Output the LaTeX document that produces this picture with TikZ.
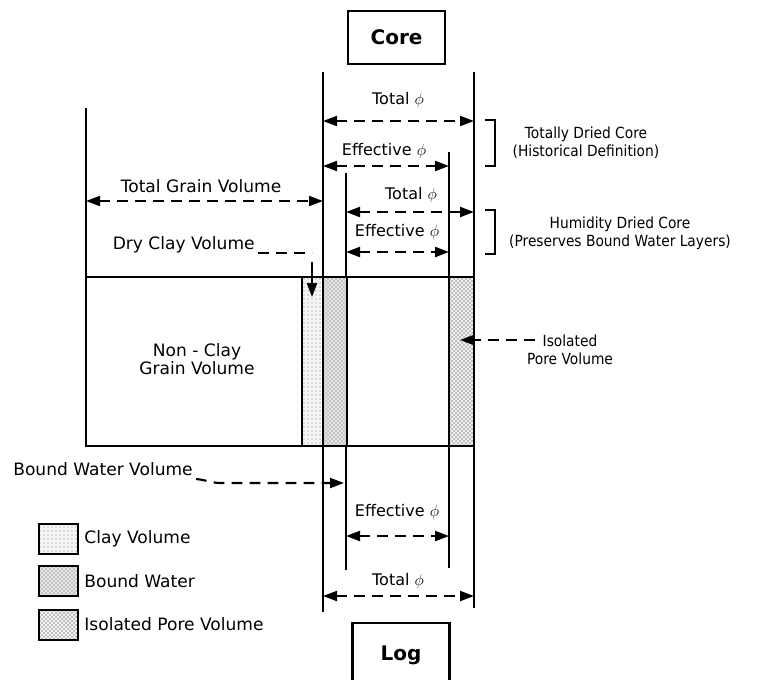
\documentclass[tikz,border=0pt]{standalone}
\usepackage{fontspec}
\setmainfont{DejaVu Sans}
\newfontfamily\narrowsans[FakeStretch=0.9]{DejaVu Sans}
\usetikzlibrary{positioning,arrows.meta,patterns,calc}

\begin{document}
\begin{tikzpicture}[x=0.75pt, y=-0.75pt, line width=1.6pt,
    txt/.style={font=\fontsize{12.8}{13.5}\selectfont, inner sep=1pt},
    dimtxt/.style={font=\fontsize{12}{13.5}\selectfont, inner sep=1pt},
    sidetxt/.style={font=\narrowsans\fontsize{11.5}{13.5}\selectfont, inner sep=1pt},
    titlebox/.style={draw, minimum width=72.75pt, minimum height=39.75pt, font=\fontsize{15}{18}\selectfont\bfseries},
    dimarrow/.style={dash pattern=on 8pt off 5.5pt, {Triangle[length=10.5pt,width=7.5pt]}-{Triangle[length=10.5pt,width=7.5pt]}},
    leader/.style={dash pattern=on 8pt off 5.5pt, -{Triangle[length=10.5pt,width=7.5pt]}},
    claypat/.style={draw, preaction={fill=gray!8}, pattern=dots, pattern color=gray!90},
    waterpat/.style={draw, preaction={fill=gray!20}, pattern=crosshatch dots, pattern color=gray!70!black},
    porepat/.style={draw, preaction={fill=gray!55}, pattern=crosshatch, pattern color=white}]

    \useasboundingbox (0,0) rectangle (780,679);

    % title boxes
    \node[titlebox] (core) at (396.5,37.5) {Core};
    \node[titlebox, minimum height=48pt] (log) at (401,655) {Log};

    % rock column
    \draw (86,277) rectangle (474,446);
    \draw[claypat] (302,277) rectangle (323,446);
    \draw[waterpat] (323,277) rectangle (347,446);
    \draw[porepat] (449,277) rectangle (474,446);
    \node[txt, align=center] (grain) at (197,359) {Non - Clay\\Grain Volume};

    % levels and line ends
    \coordinate (rt) at (0,277);
    \coordinate (rb) at (0,446);
    \coordinate (gl top) at (86,108);
    \coordinate (tl top) at (323,72);
    \coordinate (tl bot) at (323,612);
    \coordinate (tr top) at (474,72);
    \coordinate (tr bot) at (474,608);
    \coordinate (er top) at (449,152);
    \coordinate (er bot) at (449,568);
    \coordinate (el top) at (346,173);
    \coordinate (el bot) at (346,570);

    \draw (gl top) -- (gl top |- rt);
    \foreach \v in {tl,tr,er,el} {
        \draw (\v\space top) -- (\v\space top |- rt);
        \draw (\v\space bot |- rb) -- (\v\space bot);
    }

    % core porosities
    \coordinate (lv1) at (0,121);
    \coordinate (lv2) at (0,166);
    \coordinate (lv3) at (0,212);
    \coordinate (lv4) at (0,252);
    \coordinate (lv5) at (0,201);
    \coordinate (lv6) at (0,536);
    \coordinate (lv7) at (0,596);

    \draw[dimarrow] (tl top |- lv1) -- (tr top |- lv1);
    \node[dimtxt] (tot1) at (398,100) {Total $\phi$};
    \draw[dimarrow] (tl top |- lv2) -- (er top |- lv2);
    \node[dimtxt] (eff1) at (384,151) {Effective $\phi$};
    \draw[dimarrow] (el top |- lv3) -- (tr top |- lv3);
    \node[dimtxt] (tot2) at (411,195) {Total $\phi$};
    \draw[dimarrow] (el top |- lv4) -- (er top |- lv4);
    \node[dimtxt] (eff2) at (397,232) {Effective $\phi$};
    \draw[dimarrow] (gl top |- lv5) -- (tl top |- lv5);
    \node[txt] (tgv) at (201,186) {Total Grain Volume};

    % log porosities
    \draw[dimarrow] (el bot |- lv6) -- (er bot |- lv6);
    \node[dimtxt] (eff3) at (397,512) {Effective $\phi$};
    \draw[dimarrow] (tl bot |- lv7) -- (tr bot |- lv7);
    \node[dimtxt] (tot3) at (398,581) {Total $\phi$};

    % brackets
    \draw (485,120) -- (495,120) -- (495,166) -- (485,166);
    \draw (485,210) -- (495,210) -- (495,254) -- (485,254);
    \node[sidetxt, align=center] (tdc) at (586,143) {Totally Dried Core\\(Historical Definition)};
    \node[sidetxt, align=center] (hdc) at (620,233) {Humidity Dried Core\\(Preserves Bound Water Layers)};

    % leaders
    \node[txt, anchor=east] (dcv) at (257,245) {Dry Clay Volume};
    \coordinate (dcv a) at (258,253);
    \coordinate (dcv b) at (312,253);
    \coordinate (dcv c) at (312,297);
    \draw[dash pattern=on 8pt off 5.5pt] (dcv a) -- (dcv b);
    \draw[-{Triangle[length=10.5pt,width=7.5pt]}] ($(dcv b)+(0,9)$) -- (dcv c);

    \node[sidetxt, align=center] (ipv) at (570,350) {Isolated\\Pore Volume};
    \coordinate (ipv a) at (535,340);
    \coordinate (ipv b) at (460,340);
    \draw[leader] (ipv a) -- (ipv b);

    \node[txt] (bwv) at (103,469) {Bound Water Volume};
    \coordinate (bwv a) at (196,479);
    \coordinate (bwv b) at (344,483);
    \draw[leader] (bwv a) to[out=-5,in=180] ($(bwv a)+(25,4)$) -- (bwv b);

    % legend
    \draw[claypat] (39,524) rectangle (78,554);
    \node[txt, anchor=west] (lg1) at (82,539) {Clay Volume};
    \draw[waterpat] (39,566) rectangle (78,596);
    \node[txt, anchor=west] (lg2) at (82,581) {Bound Water};
    \draw[porepat] (39,610) rectangle (78,640);
    \node[txt, anchor=west] (lg3) at (82,624) {Isolated Pore Volume};
\end{tikzpicture}
\end{document}
